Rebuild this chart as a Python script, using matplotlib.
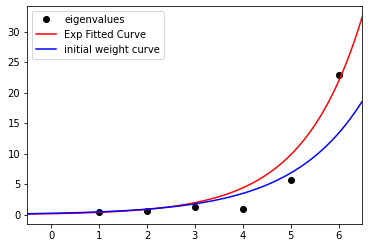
import numpy as np
import matplotlib
matplotlib.use('Agg')
import matplotlib.pyplot as plt

# observed eigenvalues
idx = [1, 2, 3, 4, 5, 6]
eigenvalues = [0.42, 0.65, 1.35, 0.98, 5.76, 23.0]

# exponential curve parameters y = a * exp(b * x)
fit_a, fit_b = 0.18, 0.80
init_a, init_b = 0.24, 0.67

x_lo, x_hi = -0.5, 6.5
xs = np.linspace(x_lo, x_hi, 200)

fig = plt.figure(figsize=(368 / 72, 248 / 72), dpi=72)
ax = fig.add_axes([0.074, 0.097, 0.911, 0.879])

ax.plot(idx, eigenvalues, 'ko', label='eigenvalues')
ax.plot(xs, fit_a * np.exp(fit_b * xs), 'r-', label='Exp Fitted Curve')
ax.plot(xs, init_a * np.exp(init_b * xs), 'b-', label='initial weight curve')
ax.set_xlim(x_lo, x_hi)
ax.legend(loc='upper left')

fig.savefig('out.png', dpi=72)
